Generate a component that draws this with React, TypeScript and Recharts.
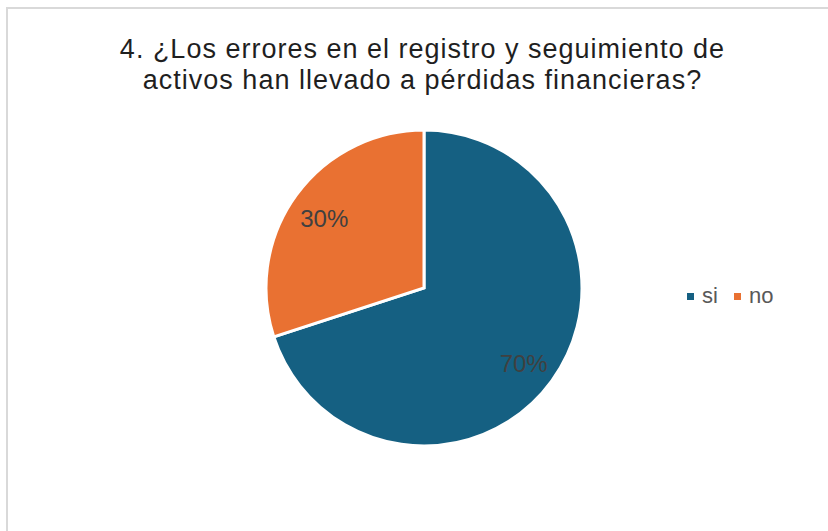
import { PieChart, Pie, Cell, Legend } from 'recharts';

const categories = ['si', 'no'];
const values = [70, 30];
const colors = ['#156082', '#E97132'];

const titleLines = [
  '4. ¿Los errores en el registro y seguimiento de',
  'activos han llevado a pérdidas financieras?',
];

const data = categories.map((name, i) => ({ name, value: values[i] }));
const total = values.reduce((a, b) => a + b, 0);

const RADIAN = Math.PI / 180;

function renderLabel(props: any) {
  const { cx, cy, midAngle, outerRadius, value } = props;
  const r = outerRadius * 0.78;
  const x = cx + r * Math.cos(-midAngle * RADIAN);
  const y = cy + r * Math.sin(-midAngle * RADIAN) + 3;
  return (
    <text
      x={x}
      y={y}
      fill="#404040"
      fontSize={24}
      fontFamily="'Liberation Sans', Arial, sans-serif"
      textAnchor="middle"
      dominantBaseline="central"
    >
      {`${Math.round((value / total) * 100)}%`}
    </text>
  );
}

// legend order follows the data arrays, not recharts' payload sorting
function renderLegend() {
  return (
    <div style={{ display: 'flex', alignItems: 'center' }}>
      {categories.map((name, i) => (
        <div
          key={name}
          style={{ display: 'flex', alignItems: 'center', marginRight: 16 }}
        >
          <span
            style={{
              display: 'inline-block',
              width: 7,
              height: 7,
              background: colors[i],
              marginRight: 8,
            }}
          />
          <span style={{ fontSize: 22, color: '#595959' }}>{name}</span>
        </div>
      ))}
    </div>
  );
}

export default function App() {
  return (
    <div
      style={{
        position: 'absolute',
        left: 0,
        top: 0,
        width: 828,
        height: 531,
        overflow: 'hidden',
        background: '#fff',
        fontFamily: "'Liberation Sans', Arial, sans-serif",
      }}
    >
      <div
        style={{
          position: 'absolute',
          left: 6,
          top: 7,
          width: 900,
          height: 600,
          border: '2px solid #d9d9d9',
        }}
      />
      <div
        style={{
          position: 'absolute',
          left: 0,
          top: 34,
          width: 845,
          textAlign: 'center',
          fontSize: 27,
          letterSpacing: 1,
          lineHeight: '31px',
          color: '#1f1f1f',
        }}
      >
        {titleLines.map((line, i) => (
          <div key={i}>{line}</div>
        ))}
      </div>
      <div style={{ position: 'absolute', left: 0, top: 0 }}>
        <PieChart
          width={828}
          height={531}
          margin={{ top: 0, right: 0, bottom: 0, left: 0 }}
        >
          <Pie
            data={data}
            dataKey="value"
            nameKey="name"
            cx={424}
            cy={288}
            outerRadius={158}
            startAngle={90}
            endAngle={-270}
            stroke="#ffffff"
            strokeWidth={3}
            label={renderLabel}
            labelLine={false}
            isAnimationActive={false}
          >
            {data.map((_, i) => (
              <Cell key={i} fill={colors[i]} />
            ))}
          </Pie>
          <Legend
            content={renderLegend}
            wrapperStyle={{ position: 'absolute', left: 687, top: 283, width: 130 }}
          />
        </PieChart>
      </div>
    </div>
  );
}
